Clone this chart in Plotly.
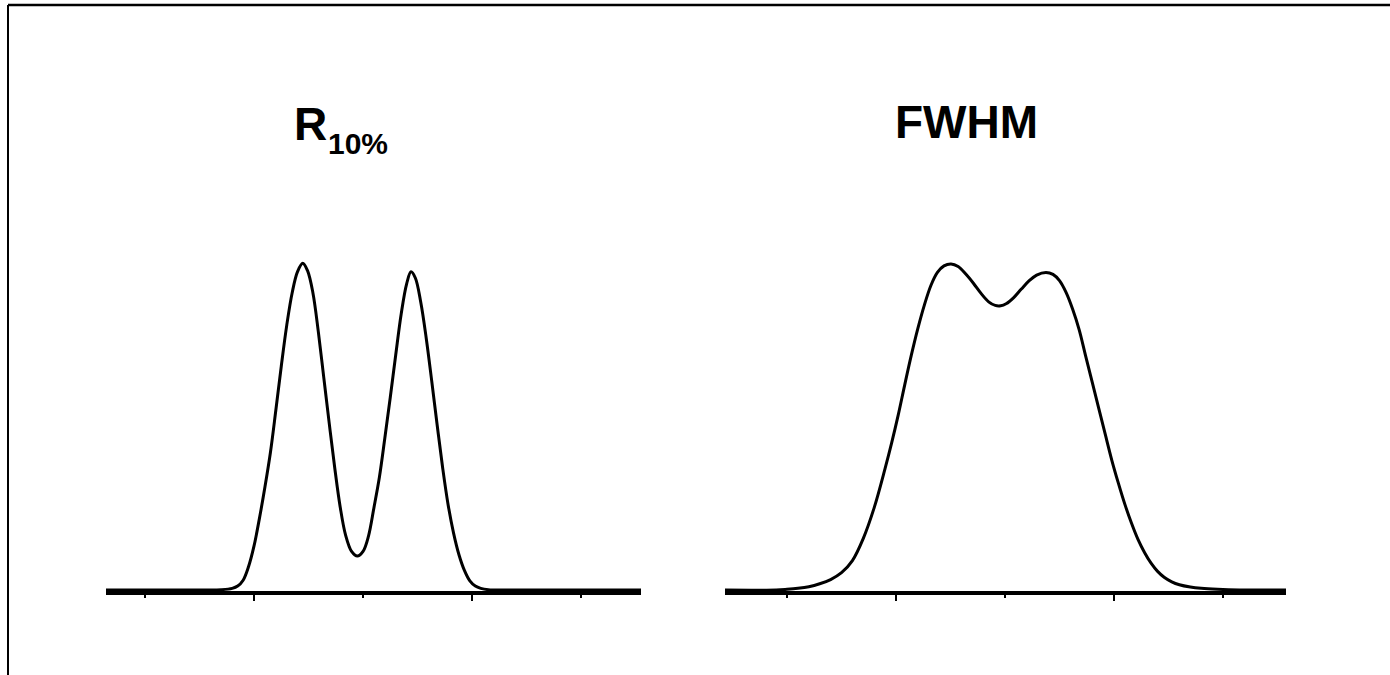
import plotly.graph_objects as go

# ---- data ----
r10_x = [0.642, 1.55, 1.70, 1.80, 1.85, 1.90, 1.95, 2.00, 2.05, 2.10, 2.15, 2.20, 2.25, 2.30,
         2.35, 2.40, 2.447, 2.49, 2.54, 2.59, 2.64, 2.69, 2.74, 2.79, 2.84, 2.895, 2.948,
         3.00, 3.05, 3.10, 3.15, 3.20, 3.25, 3.30, 3.35, 3.40, 3.44, 3.48, 3.53, 3.58, 3.63,
         3.68, 3.73, 3.78, 3.83, 3.88, 3.93, 3.98, 4.03, 4.08, 4.15, 4.30, 5.550]
r10_y = [0.0, 0.0, 0.001, 0.005, 0.012, 0.030, 0.072, 0.135, 0.220, 0.315, 0.420, 0.550, 0.685,
         0.810, 0.910, 0.975, 1.000, 0.978, 0.910, 0.790, 0.650, 0.510, 0.375, 0.255, 0.168,
         0.118, 0.104, 0.118, 0.165, 0.252, 0.345, 0.465, 0.590, 0.720, 0.845, 0.937, 0.974,
         0.955, 0.880, 0.770, 0.640, 0.505, 0.375, 0.262, 0.175, 0.108, 0.060, 0.028, 0.012,
         0.005, 0.001, 0.0, 0.0]

fwhm_x = [0.431, 0.90, 1.00, 1.10, 1.20, 1.30, 1.40, 1.50, 1.60, 1.70, 1.80, 1.90, 1.96,
          2.02, 2.08, 2.14, 2.20, 2.26, 2.32, 2.38, 2.44, 2.505, 2.57, 2.64, 2.71, 2.78, 2.85,
          2.91, 2.961, 3.01, 3.08, 3.15, 3.22, 3.29, 3.376, 3.44, 3.50, 3.56, 3.62, 3.68, 3.74,
          3.80, 3.86, 3.92, 3.98, 4.04, 4.10, 4.16, 4.22, 4.28, 4.34, 4.40, 4.46, 4.53, 4.60,
          4.70, 4.80, 4.95, 5.15, 5.578]
fwhm_y = [0.0, 0.0, 0.002, 0.005, 0.010, 0.019, 0.032, 0.053, 0.090, 0.158, 0.252, 0.372,
          0.450, 0.535, 0.628, 0.718, 0.800, 0.872, 0.932, 0.972, 0.992, 0.998, 0.990, 0.967,
          0.939, 0.908, 0.882, 0.871, 0.870, 0.876, 0.895, 0.921, 0.946, 0.964, 0.972, 0.966,
          0.947, 0.911, 0.860, 0.797, 0.716, 0.636, 0.556, 0.476, 0.397, 0.327, 0.262, 0.205,
          0.155, 0.115, 0.082, 0.057, 0.039, 0.025, 0.016, 0.009, 0.005, 0.002, 0.0, 0.0]

title_main = ["R", "FWHM"]
title_sub = "10%"

W, H = 1390, 675
FONT = "Liberation Sans, Arial, sans-serif"
fig = go.Figure()
fig.add_trace(go.Scatter(x=r10_x, y=r10_y, mode="lines", xaxis="x", yaxis="y",
                         line=dict(color="black", width=3, shape="spline", smoothing=1),
                         showlegend=False, hoverinfo="skip"))
fig.add_trace(go.Scatter(x=fwhm_x, y=fwhm_y, mode="lines", xaxis="x2", yaxis="y2",
                         line=dict(color="black", width=3, shape="spline", smoothing=1),
                         showlegend=False, hoverinfo="skip"))

ydom = [1 - 591.3 / H, 1 - 200 / H]
yrng = [-0.004, 1.1937]


def xax(domain, rng, anchor):
    return dict(domain=domain, range=rng, anchor=anchor, showline=True, linecolor="black",
                linewidth=3.5, showgrid=False, zeroline=False, showticklabels=False,
                ticks="outside", ticklen=6, tickwidth=2, tickcolor="black",
                tick0=0, dtick=2, fixedrange=True,
                minor=dict(ticks="outside", ticklen=3, tickwidth=2, tickcolor="black",
                           tick0=0, dtick=1, showgrid=False))


def yax(anchor):
    return dict(domain=ydom, range=yrng, anchor=anchor, visible=False, showgrid=False,
                zeroline=False, fixedrange=True)


def ann(text, x, y, size, xanchor):
    return dict(text="<b>" + text + "</b>", xref="paper", yref="paper", x=x / W, y=1 - y / H,
                xanchor=xanchor, yanchor="middle", showarrow=False,
                font=dict(size=size, family=FONT, color="black"))


fig.update_layout(
    width=W, height=H,
    margin=dict(l=0, r=0, t=0, b=0),
    paper_bgcolor="white", plot_bgcolor="rgba(0,0,0,0)",
    xaxis=xax([106 / W, 641 / W], [0.642, 5.550], "y"),
    xaxis2=xax([725 / W, 1286 / W], [0.431, 5.578], "y2"),
    yaxis=yax("x"),
    yaxis2=yax("x2"),
    font=dict(family=FONT, color="black"),
    shapes=[
        dict(type="line", xref="paper", yref="paper", x0=8 / W, x1=1.0, y0=1 - 5 / H, y1=1 - 5 / H,
             line=dict(color="black", width=2.5)),
        dict(type="line", xref="paper", yref="paper", x0=8 / W, x1=8 / W, y0=0, y1=1 - 5 / H,
             line=dict(color="black", width=2)),
    ],
    annotations=[
        ann(title_main[0], 292, 124, 46, "left"),
        ann(title_sub, 326, 143, 30, "left"),
        ann(title_main[1], 966, 122.5, 46, "center"),
    ],
)

fig.write_html("out.html", config={"displayModeBar": False},
               post_script="document.body.style.margin='0';")
